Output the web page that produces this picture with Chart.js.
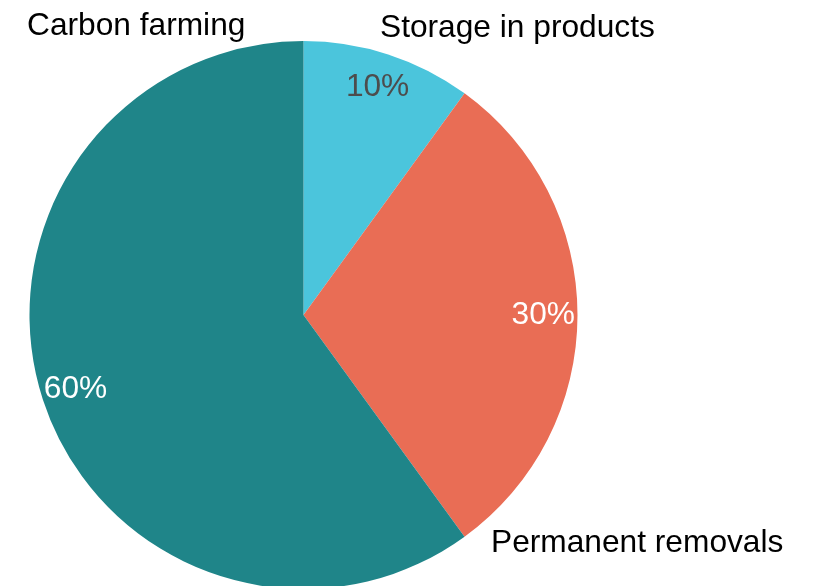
<!DOCTYPE html>
<html>
<head>
<meta charset="utf-8">
<script src="https://cdn.jsdelivr.net/npm/chart.js@4"></script>
<style>
  html, body { margin: 0; padding: 0; background: #fff; overflow: hidden; }
  #wrap { width: 813px; height: 640px; }
</style>
</head>
<body>
<div id="wrap"><canvas id="pie" width="813" height="640"></canvas></div>
<script>
const categories = ["Storage in products", "Permanent removals", "Carbon farming"];
const shares = [10, 30, 60];
const sliceColors = ["#4BC5DC", "#E96D55", "#1F8589"];
const pctColors = ["#4D4D4D", "#FFFFFF", "#FFFFFF"];
// where the category names sit (left x, baseline y)
const namePos = [[380, 37], [491, 552], [27, 35]];

const FONT = '31.7px "Liberation Sans", Arial, sans-serif';

const labelPlugin = {
    id: "pieLabels",
    afterDatasetsDraw(chart) {
        const ctx = chart.ctx;
        const meta = chart.getDatasetMeta(0);
        ctx.save();
        ctx.font = FONT;
        meta.data.forEach((arc, i) => {
            const mid = (arc.startAngle + arc.endAngle) / 2;
            const r = arc.outerRadius * 0.875;
            const x = arc.x + Math.cos(mid) * r;
            const y = arc.y + Math.sin(mid) * r;
            ctx.fillStyle = pctColors[i];
            ctx.textAlign = "center";
            ctx.textBaseline = "middle";
            ctx.fillText(shares[i] + "%", x, y);

            ctx.fillStyle = "#000";
            ctx.textAlign = "left";
            ctx.textBaseline = "alphabetic";
            ctx.fillText(categories[i], namePos[i][0], namePos[i][1]);
        });
        ctx.restore();
    }
};

new Chart(document.getElementById("pie"), {
    type: "pie",
    data: {
        labels: categories,
        datasets: [{
            data: shares,
            backgroundColor: sliceColors,
            borderWidth: 0
        }]
    },
    options: {
        responsive: false,
        animation: false,
        layout: { padding: { left: 29, top: 41, right: 235, bottom: 51 } },
        plugins: {
            legend: { display: false },
            tooltip: { enabled: false }
        }
    },
    plugins: [labelPlugin]
});
</script>
</body>
</html>
